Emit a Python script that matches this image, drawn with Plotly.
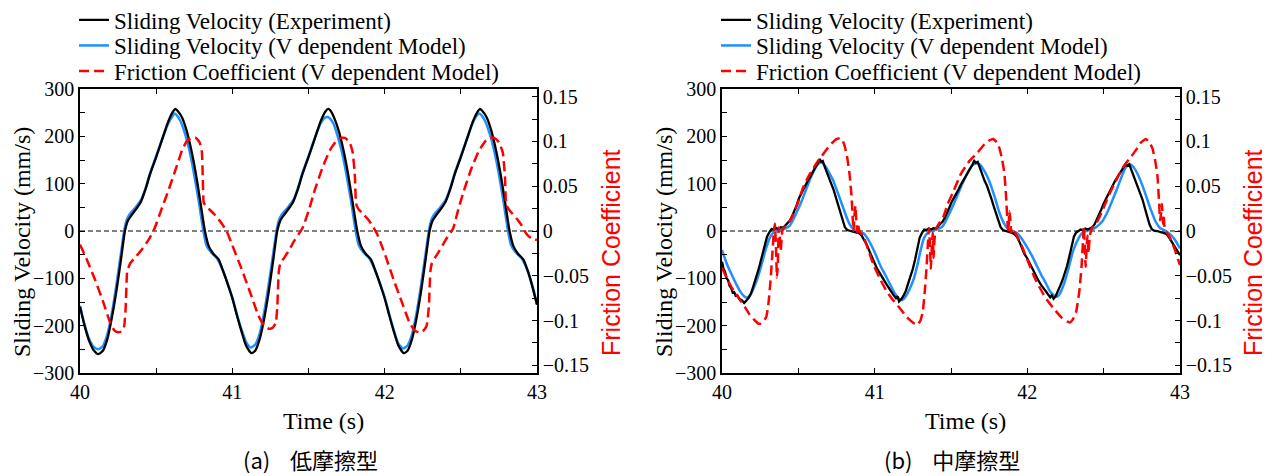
import plotly.graph_objects as go
from plotly.subplots import make_subplots

# ---------------- Panel (a): low friction type ----------------
t_exp_a = [40.00, 40.03, 40.06, 40.09, 40.12, 40.15, 40.18, 40.21, 40.24, 40.27, 40.295, 40.315, 40.335, 40.37, 40.40,
           40.43, 40.46, 40.50, 40.54, 40.58, 40.61, 40.625, 40.64, 40.67, 40.70, 40.73, 40.76, 40.79, 40.82, 40.845,
           40.875, 40.91, 40.94, 40.97, 41.00, 41.03, 41.06, 41.09, 41.125, 41.15, 41.18, 41.21, 41.24, 41.27, 41.295,
           41.315, 41.335, 41.37, 41.40, 41.43, 41.46, 41.50, 41.54, 41.58, 41.61, 41.63, 41.645, 41.67, 41.70, 41.73,
           41.76, 41.79, 41.82, 41.845, 41.875, 41.91, 41.94, 41.97, 42.00, 42.03, 42.06, 42.09, 42.125, 42.15, 42.18,
           42.21, 42.24, 42.27, 42.295, 42.315, 42.335, 42.37, 42.40, 42.43, 42.46, 42.50, 42.54, 42.58, 42.61, 42.625,
           42.64, 42.67, 42.70, 42.73, 42.76, 42.79, 42.82, 42.845, 42.875, 42.91, 42.94, 42.97, 43.00]
v_exp_a = [-160, -200, -232, -252, -260, -253, -228, -182, -125, -58, 0, 22, 32, 47, 62,
           88, 120, 156, 194, 232, 252, 258, 254, 240, 212, 172, 122, 62, 0, -32,
           -48, -60, -85, -112, -142, -178, -212, -242, -258, -253, -228, -184, -126, -58, 0,
           22, 32, 47, 62, 88, 120, 156, 194, 232, 252, 258, 254, 238, 210, 170, 120, 60, 0, -32,
           -48, -60, -85, -112, -142, -178, -212, -242, -258, -253, -228,
           -183, -125, -57, 0, 22, 32, 47, 62, 88, 120, 156, 194, 232, 252, 258,
           254, 240, 212, 172, 122, 62, 0, -32, -48, -60, -85, -118, -156]

t_mod_a = [40.00, 40.03, 40.06, 40.09, 40.12, 40.15, 40.18, 40.21, 40.24, 40.27, 40.29, 40.305, 40.325, 40.36, 40.40,
           40.43, 40.46, 40.50, 40.54, 40.58, 40.61, 40.62, 40.635, 40.66, 40.69, 40.72, 40.75, 40.78, 40.81, 40.83,
           40.86, 40.90, 40.94, 40.97, 41.00, 41.03, 41.06, 41.09, 41.12, 41.15, 41.18, 41.21, 41.24, 41.27, 41.29,
           41.305, 41.325, 41.36, 41.40, 41.43, 41.46, 41.50, 41.54, 41.58, 41.61, 41.625, 41.64, 41.665, 41.69, 41.72,
           41.75, 41.78, 41.81, 41.83, 41.86, 41.90, 41.94, 41.97, 42.00, 42.03, 42.06, 42.09, 42.12, 42.15, 42.18,
           42.21, 42.24, 42.27, 42.29, 42.305, 42.325, 42.36, 42.40, 42.43, 42.46, 42.50, 42.54, 42.58, 42.61, 42.62,
           42.635, 42.66, 42.69, 42.72, 42.75, 42.78, 42.81, 42.83, 42.86, 42.90, 42.94, 42.97, 43.00]
v_mod_a = [-158, -198, -228, -245, -250, -243, -218, -172, -112, -45, 0, 22, 35, 48, 65,
           90, 122, 158, 195, 228, 244, 248, 245, 232, 205, 168, 118, 62, 0, -30,
           -45, -58, -85, -112, -140, -176, -208, -234, -246, -240, -216, -170, -110, -44, 0,
           22, 35, 48, 65, 90, 122, 158, 195, 228, 240, 241, 238, 226, 202, 166,
           118, 62, 0, -30, -45, -58, -85, -112, -140, -176, -210, -238, -248, -242, -218,
           -172, -112, -45, 0, 22, 35, 48, 65, 90, 122, 158, 195, 230, 246, 248,
           245, 232, 205, 168, 120, 62, 0, -30, -45, -58, -85, -116, -154]

t_mu_a = [40.00, 40.05, 40.10, 40.15, 40.195, 40.225, 40.25, 40.275, 40.29, 40.30, 40.31, 40.33, 40.36, 40.40, 40.45,
          40.49, 40.53, 40.58, 40.63, 40.67, 40.70, 40.73, 40.76, 40.785, 40.80, 40.806, 40.812, 40.825, 40.85, 40.88,
          40.91, 40.94, 40.97, 41.00, 41.06, 41.12, 41.17, 41.21, 41.24, 41.265, 41.285, 41.295, 41.305, 41.315, 41.34,
          41.37, 41.41, 41.46, 41.50, 41.54, 41.59, 41.64, 41.68, 41.71, 41.74, 41.77, 41.79, 41.805, 41.811, 41.817,
          41.83, 41.86, 41.89, 41.92, 41.95, 41.98, 42.01, 42.06, 42.11, 42.16, 42.195, 42.225, 42.25, 42.275, 42.29,
          42.30, 42.31, 42.33, 42.36, 42.40, 42.45, 42.48, 42.52, 42.57, 42.62, 42.66, 42.69, 42.72, 42.75, 42.775,
          42.79, 42.796, 42.802, 42.815, 42.84, 42.87, 42.90, 42.93, 42.96, 43.00]
mu_a = [-0.015, -0.034, -0.055, -0.078, -0.101, -0.111, -0.113, -0.112, -0.106, -0.085, -0.045, -0.036, -0.030, -0.022, -0.010,
        0.003, 0.022, 0.045, 0.070, 0.090, 0.100, 0.104, 0.104, 0.099, 0.088, 0.060, 0.032, 0.028, 0.024, 0.019,
        0.013, 0.006, -0.003, -0.016, -0.042, -0.070, -0.094, -0.106, -0.109, -0.108, -0.103, -0.085, -0.045, -0.036, -0.030,
        -0.022, -0.010, 0.003, 0.022, 0.045, 0.070, 0.090, 0.100, 0.104, 0.104, 0.099, 0.088, 0.060, 0.032, 0.028,
        0.024, 0.019, 0.013, 0.006, -0.003, -0.016, -0.030, -0.055, -0.078, -0.101, -0.111, -0.113, -0.112, -0.106, -0.085,
        -0.045, -0.036, -0.030, -0.022, -0.010, 0.003, 0.022, 0.045, 0.070, 0.090, 0.100, 0.104, 0.104, 0.099, 0.088,
        0.060, 0.032, 0.028, 0.024, 0.019, 0.013, 0.006, -0.003, -0.008, -0.010]

# ---------------- Panel (b): medium friction type ----------------
t_exp_b = [40.000, 40.010, 40.020, 40.030, 40.040, 40.050, 40.060, 40.070, 40.080, 40.090, 40.100, 40.115, 40.130, 40.145,
           40.160, 40.175, 40.190, 40.205, 40.220, 40.235, 40.250, 40.265, 40.280, 40.295, 40.310, 40.325, 40.340, 40.355,
           40.370, 40.385, 40.400, 40.415, 40.430, 40.445, 40.460, 40.475, 40.490, 40.505, 40.520, 40.535, 40.550, 40.565,
           40.580, 40.595, 40.610, 40.625, 40.640, 40.650, 40.660, 40.670, 40.685, 40.700, 40.715, 40.730, 40.745, 40.760,
           40.775, 40.790, 40.805, 40.820, 40.840, 40.860, 40.880, 40.900, 40.915, 40.930, 40.950, 40.965, 40.980, 41.000,
           41.015, 41.030, 41.050, 41.065, 41.080, 41.095, 41.110, 41.125, 41.140, 41.150, 41.160, 41.175, 41.190, 41.205,
           41.220, 41.235, 41.250, 41.265, 41.280, 41.295, 41.310, 41.325, 41.340, 41.355, 41.370, 41.385, 41.400, 41.415,
           41.430, 41.445, 41.460, 41.475, 41.490, 41.505, 41.520, 41.535, 41.550, 41.565, 41.580, 41.595, 41.610, 41.625,
           41.640, 41.652, 41.662, 41.675, 41.690, 41.705, 41.720, 41.735, 41.750, 41.765, 41.780, 41.795, 41.810, 41.825,
           41.840, 41.860, 41.880, 41.900, 41.920, 41.935, 41.950, 41.965, 41.980, 42.000, 42.015, 42.030, 42.045, 42.060,
           42.075, 42.090, 42.105, 42.120, 42.135, 42.150, 42.160, 42.172, 42.185, 42.200, 42.215, 42.230, 42.245, 42.260,
           42.275, 42.290, 42.305, 42.320, 42.335, 42.350, 42.365, 42.380, 42.395, 42.410, 42.425, 42.440, 42.455, 42.470,
           42.485, 42.500, 42.515, 42.530, 42.545, 42.560, 42.575, 42.590, 42.605, 42.620, 42.635, 42.645, 42.655, 42.668,
           42.680, 42.695, 42.710, 42.725, 42.740, 42.755, 42.770, 42.785, 42.800, 42.815, 42.830, 42.850, 42.870, 42.890,
           42.910, 42.925, 42.940, 42.955, 42.970, 42.985, 43.000]
v_exp_b = [-65, -80, -86, -100, -104, -116, -120, -130, -129, -137, -136, -144, -146, -152,
           -147, -141, -132, -118, -104, -86, -68, -50, -30, -12, -3, 4, 3, 6,
           4, 8, 7, 12, 16, 22, 32, 42, 55, 70, 80, 88, 97, 108,
           116, 126, 134, 141, 152, 146, 148, 138, 124, 110, 100, 88, 72, 56,
           38, 22, 8, 2, 0, -1, -3, -5, -10, -18, -30, -42, -55, -68,
           -79, -88, -100, -106, -114, -122, -130, -136, -142, -138, -149, -144, -136, -126,
           -110, -96, -80, -60, -38, -14, -4, 3, 2, 5, 3, 6, 5, 10,
           14, 20, 28, 38, 50, 62, 70, 80, 88, 98, 106, 116, 124, 132,
           140, 148, 144, 146, 132, 118, 106, 96, 84, 68, 52, 36, 20, 8,
           2, 0, -2, -4, -8, -14, -24, -36, -48, -58, -68, -78, -88, -98,
           -106, -114, -120, -128, -134, -140, -136, -143, -138, -128, -116, -104, -90, -74,
           -54, -30, -12, -3, 1, 3, 2, 5, 3, 6, 8, 14, 24, 34,
           46, 58, 68, 76, 86, 97, 106, 114, 122, 130, 136, 142, 138, 141,
           130, 118, 104, 94, 82, 66, 48, 30, 14, 4, 1, 0, -2, -3,
           -6, -12, -20, -28, -36, -44, -51]

t_mod_b = [40.000, 40.030, 40.060, 40.090, 40.120, 40.145, 40.162, 40.180, 40.200, 40.225, 40.246, 40.270, 40.290, 40.312,
           40.335, 40.360, 40.389, 40.420, 40.445, 40.465, 40.490, 40.520, 40.554, 40.580, 40.610, 40.635, 40.653, 40.670,
           40.690, 40.710, 40.729, 40.750, 40.775, 40.795, 40.820, 40.840, 40.861, 40.890, 40.927, 40.950, 40.975, 41.000,
           41.015, 41.040, 41.070, 41.103, 41.130, 41.160, 41.180, 41.200, 41.230, 41.257, 41.280, 41.300, 41.323, 41.350,
           41.390, 41.420, 41.445, 41.470, 41.510, 41.540, 41.580, 41.610, 41.640, 41.670, 41.690, 41.720, 41.745, 41.770,
           41.790, 41.808, 41.830, 41.855, 41.875, 41.900, 41.930, 41.960, 41.990, 42.028, 42.060, 42.090, 42.116, 42.150,
           42.175, 42.192, 42.210, 42.240, 42.270, 42.300, 42.336, 42.360, 42.390, 42.420, 42.450, 42.490, 42.530, 42.580,
           42.610, 42.640, 42.666, 42.690, 42.720, 42.753, 42.780, 42.810, 42.840, 42.870, 42.907, 42.940, 42.970, 43.000]
v_mod_b = [-40, -68, -90, -110, -128, -138, -141, -137, -126, -107, -86, -58, -35, -15,
           -4, 0, 2, 6, 12, 23, 40, 62, 90, 112, 132, 143, 145, 140,
           130, 118, 106, 88, 66, 48, 26, 12, 4, -1, -5, -14, -28, -45,
           -56, -75, -93, -114, -131, -143, -146, -140, -122, -100, -72, -42, -15, -3,
           2, 5, 10, 24, 51, 74, 104, 124, 139, 143, 140, 126, 110, 88,
           68, 48, 28, 12, 4, 0, -4, -15, -30, -51, -72, -92, -107, -128,
           -137, -139, -134, -112, -79, -42, -15, -4, 0, 3, 8, 20, 44, 83,
           108, 132, 141, 137, 122, 97, 72, 44, 20, 6, 0, -8, -20, -37]

t_mu_b = [40.000, 40.030, 40.060, 40.090, 40.114, 40.150, 40.180, 40.210, 40.235, 40.250, 40.270, 40.290, 40.305, 40.318,
          40.330, 40.340, 40.346, 40.352, 40.360, 40.366, 40.372, 40.378, 40.385, 40.392, 40.400, 40.420, 40.440, 40.465,
          40.500, 40.530, 40.570, 40.620, 40.655, 40.685, 40.720, 40.750, 40.773, 40.790, 40.805, 40.820, 40.835, 40.848,
          40.856, 40.862, 40.868, 40.874, 40.880, 40.886, 40.892, 40.900, 40.927, 40.960, 40.993, 41.040, 41.081, 41.125,
          41.169, 41.210, 41.250, 41.279, 41.300, 41.315, 41.328, 41.340, 41.350, 41.356, 41.362, 41.368, 41.374, 41.380,
          41.386, 41.392, 41.400, 41.420, 41.450, 41.478, 41.510, 41.566, 41.620, 41.676, 41.720, 41.750, 41.775, 41.800,
          41.818, 41.835, 41.850, 41.862, 41.870, 41.876, 41.882, 41.888, 41.895, 41.905, 41.930, 41.962, 42.000, 42.050,
          42.100, 42.138, 42.180, 42.226, 42.260, 42.281, 42.300, 42.320, 42.340, 42.355, 42.365, 42.370, 42.376, 42.382,
          42.388, 42.394, 42.400, 42.410, 42.425, 42.450, 42.490, 42.534, 42.580, 42.622, 42.670, 42.710, 42.745, 42.776,
          42.800, 42.820, 42.838, 42.852, 42.862, 42.870, 42.876, 42.882, 42.888, 42.894, 42.900, 42.930, 42.960, 43.000]
mu_b = [-0.041, -0.052, -0.062, -0.070, -0.076, -0.085, -0.093, -0.099, -0.103, -0.1035, -0.101, -0.096, -0.080, -0.055,
        -0.025, 0.000, 0.008, -0.010, -0.052, -0.035, 0.004, -0.005, -0.022, -0.004, 0.003, 0.006, 0.010, 0.018,
        0.033, 0.048, 0.062, 0.076, 0.084, 0.091, 0.098, 0.1025, 0.1035, 0.101, 0.094, 0.082, 0.064, 0.040,
        0.015, 0.000, 0.018, 0.028, 0.010, -0.002, 0.006, 0.000, -0.006, -0.022, -0.038, -0.055, -0.068, -0.078,
        -0.087, -0.096, -0.102, -0.105, -0.100, -0.090, -0.068, -0.040, -0.010, 0.003, -0.015, -0.042, -0.020, -0.002,
        -0.030, -0.010, 0.002, 0.008, 0.016, 0.030, 0.042, 0.064, 0.078, 0.088, 0.097, 0.101, 0.1027, 0.099,
        0.092, 0.080, 0.064, 0.035, 0.009, 0.000, 0.022, 0.014, -0.002, 0.003, -0.005, -0.016, -0.032, -0.053,
        -0.069, -0.079, -0.088, -0.097, -0.101, -0.102, -0.098, -0.090, -0.068, -0.040, -0.010, 0.005, -0.015, -0.040,
        -0.020, -0.005, -0.025, -0.005, 0.004, 0.008, 0.022, 0.040, 0.056, 0.070, 0.081, 0.090, 0.099, 0.1027,
        0.099, 0.092, 0.078, 0.062, 0.035, 0.012, 0.020, 0.030, 0.008, 0.016, 0.002, -0.006, -0.018, -0.038]

names = ["Sliding Velocity (Experiment)", "Sliding Velocity (V dependent Model)",
         "Friction Coefficient (V dependent Model)"]
captions = ["(a)\u00a0\u00a0\u00a0\u00a0低摩擦型", "(b)\u00a0\u00a0\u00a0\u00a0中摩擦型"]

W, H = 1273, 476
OFF = 8  # the page places the figure 8 px from the top-left corner of the window


def px(x):
    return (x - OFF) / W


def py(y):
    return 1 - (y - OFF) / H


SERIF = "Liberation Serif"
SANS = "Liberation Sans"
CJK = "Noto Sans CJK JP"
BLACK, BLUE, RED = "#000000", "#1E90FF", "#FF0000"

fig = make_subplots(rows=1, cols=2, specs=[[{"secondary_y": True}, {"secondary_y": True}]])

legend_keys = ["legend", "legend2", "legend3", "legend4", "legend5", "legend6"]
panels = [(t_exp_a, v_exp_a, t_mod_a, v_mod_a, t_mu_a, mu_a, "spline"),
          (t_exp_b, v_exp_b, t_mod_b, v_mod_b, t_mu_b, mu_b, "linear")]
for i, (te, ve, tm, vm, tu, mu, exp_shape) in enumerate(panels):
    col = i + 1
    lg = legend_keys[i * 3:i * 3 + 3]
    fig.add_trace(go.Scatter(x=tm, y=vm, mode="lines", name=names[1], legend=lg[1],
                             line=dict(color=BLUE, width=2.5, shape="spline", smoothing=0.6)),
                  row=1, col=col, secondary_y=False)
    exp_line = dict(color=BLACK, width=2.3, shape=exp_shape)
    if exp_shape == "spline":
        exp_line["smoothing"] = 0.6
    fig.add_trace(go.Scatter(x=te, y=ve, mode="lines", name=names[0], legend=lg[0], line=exp_line),
                  row=1, col=col, secondary_y=False)
    fig.add_trace(go.Scatter(x=tu, y=mu, mode="lines", name=names[2], legend=lg[2],
                             line=dict(color=RED, width=2.5, dash="10px,5px", shape="spline", smoothing=0.4)),
                  row=1, col=col, secondary_y=True)

xdom = [[px(80), px(537)], [px(722), px(1180)]]
ydom = [py(373), py(89)]

axis_common = dict(showline=True, linecolor="black", linewidth=1.5, ticks="inside", ticklen=5,
                   tickwidth=1.2, tickcolor="black", showgrid=False, zeroline=False, automargin=False,
                   tickfont=dict(family=SERIF, size=20, color="black"))
minor_common = dict(ticks="inside", ticklen=5, tickcolor="black", tickwidth=1.2, showgrid=False)

for i in range(2):
    xa = "xaxis" if i == 0 else "xaxis2"
    ya = "yaxis" if i == 0 else "yaxis3"
    ya2 = "yaxis2" if i == 0 else "yaxis4"
    fig.layout[xa].update(domain=xdom[i], range=[40, 43], tick0=40, dtick=1, mirror="ticks",
                          minor=dict(dtick=0.5, **minor_common), **axis_common)
    fig.layout[ya].update(domain=ydom, range=[-300, 300], tick0=0, dtick=100,
                          minor=dict(dtick=50, **minor_common), **axis_common)
    fig.layout[ya2].update(domain=ydom, range=[-0.1585, 0.1585], tick0=0, dtick=0.05, side="right",
                           minor=dict(dtick=0.025, **minor_common), **axis_common)
    xref = "x" if i == 0 else "x2"
    yref = "y" if i == 0 else "y3"
    fig.add_shape(type="line", xref=xref + " domain", yref=yref, x0=0, x1=1, y0=0, y1=0,
                  line=dict(color="black", width=1.2, dash="5px,3px"), layer="below")

# axis titles and captions
ann = []
for i in range(2):
    off = 0 if i == 0 else 642
    ann.append(dict(text="Sliding Velocity (mm/s)", x=px(22 + off), y=py(242), textangle=-90,
                    font=dict(family=SERIF, size=24, color="black")))
    ann.append(dict(text="Friction Coefficient", x=px(611 + off), y=py(253), textangle=-90,
                    font=dict(family=SANS, size=25, color=RED)))
    ann.append(dict(text="Time (s)", x=px(323 + off), y=py(421),
                    font=dict(family=SERIF, size=24, color="black")))
    ann.append(dict(text=captions[i], x=px(310 + off), y=py(459),
                    font=dict(family=CJK, size=22, color="black")))
for a in ann:
    a.update(xref="paper", yref="paper", showarrow=False, xanchor="center", yanchor="middle")
fig.update_layout(annotations=ann)

rows_y = [20, 45.5, 71]
legends = {}
for i in range(2):
    for r in range(3):
        legends[legend_keys[i * 3 + r]] = dict(
            x=px(74 + i * 642), y=py(rows_y[r]), xanchor="left", yanchor="middle",
            bgcolor="rgba(0,0,0,0)", borderwidth=0, font=dict(family=SERIF, size=23, color="black"))
fig.update_layout(**legends)

fig.update_layout(width=W, height=H, margin=dict(l=0, r=0, t=0, b=0, pad=0, autoexpand=False),
                  paper_bgcolor="white", plot_bgcolor="white", showlegend=True)

fig.write_html("out.html")
